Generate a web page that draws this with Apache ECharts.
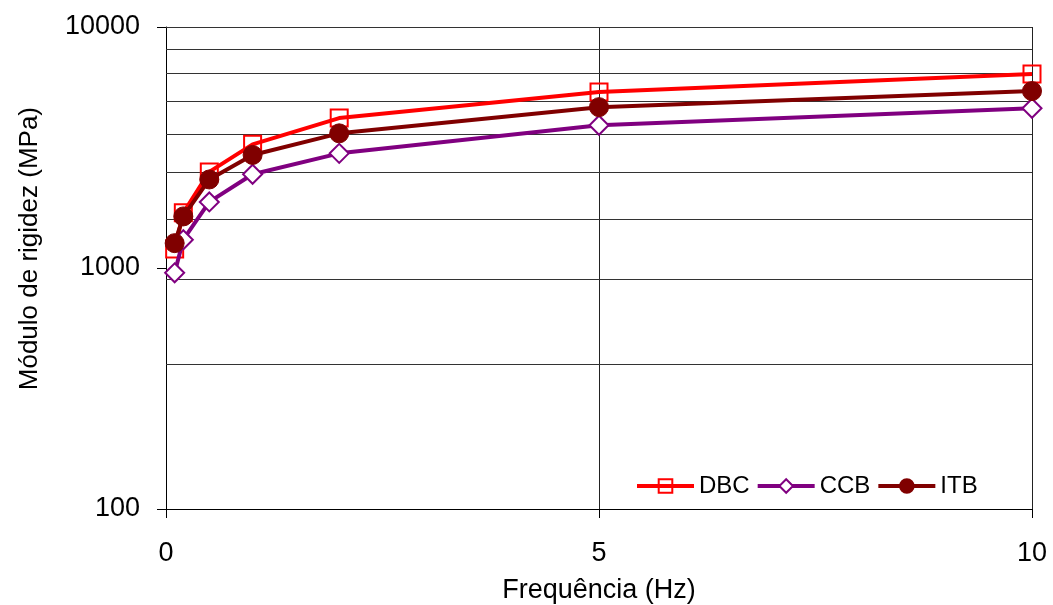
<!DOCTYPE html>
<html>
<head>
<meta charset="utf-8">
<script src="https://cdn.jsdelivr.net/npm/echarts@6/dist/echarts.min.js"></script>
<style>
  html, body {margin: 0; padding: 0; background: #fff;}
  #chart {width: 1053px; height: 605px;}
</style>
</head>
<body>
<div id="chart"></div>
<script>
// frequencies (Hz)
const freq = [0.1, 0.2, 0.5, 1, 2, 5, 10];
// stiffness modulus (MPa) per mix
const dbc = [1200, 1695, 2505, 3260, 4190, 5370, 6380];
const ccb = [955, 1310, 1880, 2450, 2990, 3910, 4600];
const itb = [1268, 1637, 2330, 2945, 3620, 4650, 5420];
const seriesNames = ['DBC', 'CCB', 'ITB'];
// horizontal gridlines of the original chart
const gridValues = [400, 900, 1600, 2500, 3600, 4900, 6400, 8100, 10000];
const xTicks = [0, 5, 10];
const yTicks = [100, 1000, 10000];

const font = 'Arial, "Liberation Sans", sans-serif';
const pairs = arr => arr.map((v, i) => [freq[i], v]);

const option = {
    animation: false,
    backgroundColor: '#fff',
    grid: {left: 166, right: 21, top: 27, bottom: 96, containLabel: false, outerBoundsMode: 'none'},
    legend: {
        data: seriesNames,
        left: 635, top: 474, padding: 0,
        itemWidth: 57, itemHeight: 17, itemGap: 6,
        lineStyle: {width: 4},
        textStyle: {fontSize: 24, color: '#000', fontFamily: font}
    },
    xAxis: {
        type: 'value',
        min: xTicks[0], max: xTicks[xTicks.length - 1], interval: 5,
        name: 'Frequência (Hz)',
        nameLocation: 'middle', nameGap: 68,
        nameTextStyle: {fontSize: 27, color: '#000', fontFamily: font},
        axisLine: {lineStyle: {color: '#000', width: 1}},
        axisTick: {show: true, length: 9, lineStyle: {color: '#000'}},
        axisLabel: {fontSize: 27, color: '#000', fontFamily: font, margin: 31},
        splitLine: {show: true, lineStyle: {color: '#222', width: 1}}
    },
    yAxis: {
        type: 'log', logBase: 10,
        min: yTicks[0], max: yTicks[yTicks.length - 1],
        axisLine: {show: true, lineStyle: {color: '#000', width: 1}},
        axisTick: {show: true, length: 9, lineStyle: {color: '#000'}},
        axisLabel: {
            fontSize: 27, color: '#000', fontFamily: font, margin: 26,
            formatter: v => String(Math.round(v))
        },
        splitLine: {show: false},
        minorTick: {show: false}
    },
    graphic: [{
        type: 'text',
        left: 17, top: 107,
        rotation: Math.PI / 2,
        style: {
            text: 'Módulo de rigidez (MPa)',
            fontSize: 26, fill: '#000', fontFamily: font
        }
    }],
    series: [
        {
            name: 'grid', type: 'line', data: [], z: 1, silent: true,
            markLine: {
                silent: true, symbol: ['none', 'none'], z: 1,
                label: {show: false},
                lineStyle: {color: '#333', width: 1, type: 'solid'},
                data: gridValues.map(v => ({yAxis: v}))
            }
        },
        {
            name: 'DBC', type: 'line', data: pairs(dbc),
            symbol: 'rect', symbolSize: 17, z: 3,
            lineStyle: {color: '#ff0000', width: 4},
            itemStyle: {color: 'rgba(0,0,0,0)', borderColor: '#ff0000', borderWidth: 2}
        },
        {
            name: 'CCB', type: 'line', data: pairs(ccb),
            symbol: 'diamond', symbolSize: 19, z: 4,
            lineStyle: {color: '#800080', width: 4},
            itemStyle: {color: '#fff', borderColor: '#800080', borderWidth: 2}
        },
        {
            name: 'ITB', type: 'line', data: pairs(itb),
            symbol: 'circle', symbolSize: 19, z: 5,
            lineStyle: {color: '#800000', width: 4},
            itemStyle: {color: '#800000', borderColor: '#800000', borderWidth: 1}
        }
    ]
};

const myChart = echarts.init(document.getElementById('chart'));
myChart.setOption(option);
</script>
</body>
</html>
